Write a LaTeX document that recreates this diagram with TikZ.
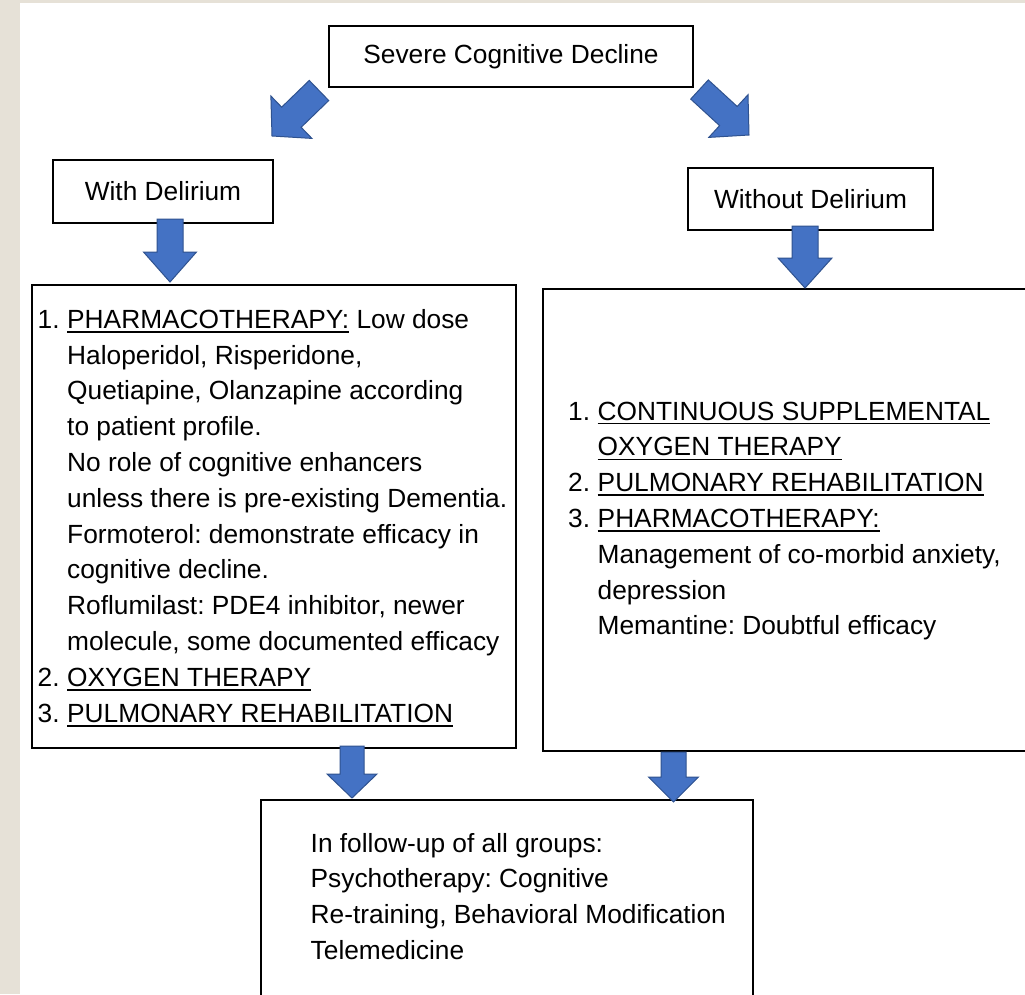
\documentclass[tikz,border=0pt]{standalone}
\usepackage{fontspec}
\setmainfont{Liberation Sans}
\usetikzlibrary{calc}
\definecolor{bgbeige}{HTML}{E6E1D7}
\definecolor{arrowfill}{HTML}{4472C4}
\definecolor{arrowline}{HTML}{2F528F}
\newcommand\ulx[1]{\setbox0=\hbox{#1}\rlap{\rule[-4.4pt]{\wd0}{1.6pt}}\box0\relax}
\newcommand\numx[1]{\makebox[29.5pt][l]{#1}}
\newcommand\indx{\hspace*{29.5pt}}
\newcommand\barrow[5]{%
  \coordinate (bh) at ($(#2)!#5!(#1)$);
  \filldraw[blockarrow] ($(#1)!#3!90:(#2)$) -- ($(bh)!#3!-90:(#1)$) -- ($(bh)!#4!-90:(#1)$) -- (#2) -- ($(bh)!#4!90:(#1)$) -- ($(bh)!#3!90:(#1)$) -- ($(#1)!#3!-90:(#2)$) -- cycle;}
\frenchspacing
\begin{document}
\begin{tikzpicture}[x=1pt,y=-1pt,
  box/.style={draw=black, line width=1.8pt, fill=white, inner sep=0pt},
  txt/.style={font=\fontsize{26.3}{35.8}\selectfont, inner sep=0pt, text=black},
  blockarrow/.style={fill=arrowfill, draw=arrowline, line width=1pt, line join=miter}]
\fill[bgbeige] (0,0) rectangle (1025,994);
\fill[white] (20,3) rectangle (1025,994);
\useasboundingbox (0,0) rectangle (1025,994);

% boxes
\node[box, txt, minimum width=364pt, minimum height=61pt] (top) at (511,56.5) {Severe Cognitive Decline};
\node[box, txt, minimum width=220pt, minimum height=63pt] (withd) at (163,191.5) {With Delirium};
\node[box, txt, minimum width=245pt, minimum height=62pt] (withoutd) at (810.5,199) {Without Delirium};
\node[box, minimum width=484pt, minimum height=463pt] (lbox) at (274,516.5) {};
\node[box, minimum width=497pt, minimum height=462pt] (rbox) at (791.5,520) {};
\node[box, minimum width=492pt, minimum height=210pt] (bbox) at (507,905) {};

% texts
\node[txt, anchor=base west] (ltext) at (37.5,328.3) {\begin{tabular}[t]{@{}l@{}}
\numx{1.}\ulx{PHARMACOTHERAPY:} Low dose\\
\indx Haloperidol, Risperidone,\\
\indx Quetiapine, Olanzapine according\\
\indx to patient profile.\\
\indx No role of cognitive enhancers\\
\indx unless there is pre-existing Dementia.\\
\indx Formoterol: demonstrate efficacy in\\
\indx cognitive decline.\\
\indx Roflumilast: PDE4 inhibitor, newer\\
\indx molecule, some documented efficacy\\
\numx{2.}\ulx{OXYGEN THERAPY}\\
\numx{3.}\ulx{PULMONARY REHABILITATION}
\end{tabular}};

\node[txt, anchor=base west] (rtext) at (568,420) {\begin{tabular}[t]{@{}l@{}}
\numx{1.}\ulx{CONTINUOUS SUPPLEMENTAL}\\
\indx\ulx{OXYGEN THERAPY}\\
\numx{2.}\ulx{PULMONARY REHABILITATION}\\
\numx{3.}\ulx{PHARMACOTHERAPY:}\\
\indx Management of co-morbid anxiety,\\
\indx depression\\
\indx Memantine: Doubtful efficacy
\end{tabular}};

\node[txt, anchor=base west] (btext) at (310.5,852) {\begin{tabular}[t]{@{}l@{}}
In follow-up of all groups:\\
Psychotherapy: Cognitive\\
Re-training, Behavioral Modification\\
Telemedicine
\end{tabular}};

% block arrows
\coordinate (a1t) at (319,90.5);   \coordinate (a1h) at (272,136);
\coordinate (a2t) at (699.5,89.5); \coordinate (a2h) at (749,135);
\coordinate (a3t) at (170,219);    \coordinate (a3h) at (170,282);
\coordinate (a4t) at (805,226);    \coordinate (a4h) at (805,288);
\coordinate (a5t) at (352,746);    \coordinate (a5h) at (352,798);
\coordinate (a6t) at (673.5,752);  \coordinate (a6h) at (673.5,802);
\barrow{a1t}{a1h}{14pt}{29.5pt}{27pt}
\barrow{a2t}{a2h}{13pt}{29pt}{28pt}
\barrow{a3t}{a3h}{13pt}{26.5pt}{30pt}
\barrow{a4t}{a4h}{13pt}{27pt}{30pt}
\barrow{a5t}{a5h}{12pt}{25pt}{24pt}
\barrow{a6t}{a6h}{12.5pt}{25pt}{25pt}
\end{tikzpicture}
\end{document}
